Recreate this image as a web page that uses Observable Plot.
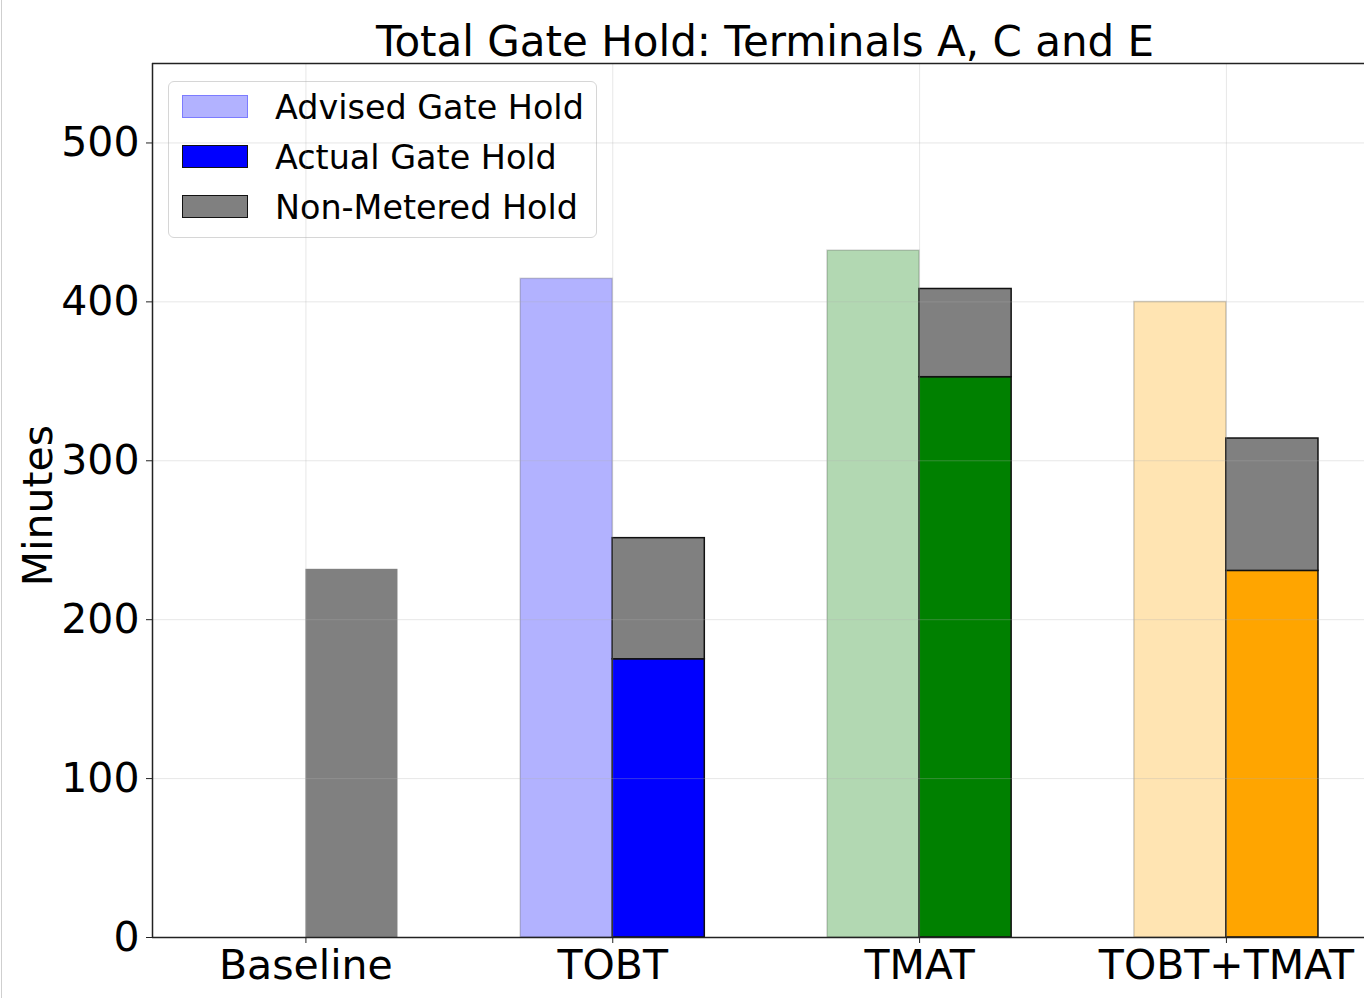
<!DOCTYPE html>
<html><head><meta charset="utf-8">
<script src="https://cdn.jsdelivr.net/npm/d3@7"></script>
<script src="https://cdn.jsdelivr.net/npm/@observablehq/plot@0.6"></script>
<style>
body{margin:0;background:#fff;font-family:"DejaVu Sans",sans-serif;}
#wrap{position:relative;width:1364px;height:998px;overflow:hidden;background:#fff;}
#title{position:absolute;top:21px;left:765px;transform:translateX(-50%);white-space:nowrap;font-size:42px;line-height:42px;color:#000;}
#legend{position:absolute;left:168px;top:81px;width:427px;height:155px;border:1px solid #d6d6d6;border-radius:6px;background:rgba(255,255,255,0.8);}
.lrow{position:absolute;left:0;height:40px;width:100%;}
.patch{position:absolute;left:13px;top:8px;width:64px;height:21px;}
.ltext{position:absolute;left:106px;top:1px;font-size:33.4px;line-height:40px;white-space:nowrap;color:#000;}
#edge{position:absolute;left:1px;top:0;width:1px;height:998px;background:#cfcfcf;}
svg{position:absolute;left:0;top:0;}
</style>
</head><body>
<div id="wrap"><div id="edge"></div><div id="title"></div><div id="legend"></div></div>
<script>
const title = "Total Gate Hold: Terminals A, C and E";
const categories = ["Baseline", "TOBT", "TMAT", "TOBT+TMAT"];
const advised = [null, 414.5, 432.2, 399.9];
const actual = [0, 175.1, 352.6, 230.7];
const nonMetered = [231.7, 76.2, 55.5, 83.3];
const advisedColors = ["#b2b2ff", "#b2b2ff", "#b2d8b2", "#ffe4b2"];
const actualColors = ["#0000ff", "#0000ff", "#008000", "#ffa500"];
const grayColor = "#808080";
const yTicks = [0, 100, 200, 300, 400, 500];
const yLabel = "Minutes";
const legendLabels = ["Advised Gate Hold", "Actual Gate Hold", "Non-Metered Hold"];
const legendFills = ["#b2b2ff", "#0000ff", "#808080"];
const legendStrokes = ["rgba(0,0,255,0.3)", "#111", "#111"];

const barW = 0.3;
const rows = categories.map((c, i) => ({
  i, c,
  advised: advised[i],
  actual: actual[i],
  top: actual[i] + nonMetered[i],
  advColor: advisedColors[i],
  actColor: actualColors[i],
  edged: actual[i] > 0
}));

document.getElementById("title").textContent = title;

const plot = Plot.plot({
  width: 1364,
  height: 998,
  marginLeft: 152,
  marginRight: 0,
  marginTop: 63,
  marginBottom: 61,
  style: {fontFamily: "DejaVu Sans", color: "#000", background: "transparent", overflow: "visible"},
  x: {type: "linear", domain: [-0.5, 3.45]},
  y: {domain: [0, 550]},
  marks: [
    Plot.rectY(rows.filter(d => d.advised != null), {
      x1: d => d.i - barW, x2: d => d.i, y1: 0, y2: "advised",
      fill: "advColor", stroke: "#000", strokeOpacity: 0.18, strokeWidth: 1.5
    }),
    Plot.rectY(rows.filter(d => d.actual > 0), {
      x1: d => d.i, x2: d => d.i + barW, y1: 0, y2: "actual",
      fill: "actColor", stroke: "#111", strokeWidth: 1.5
    }),
    Plot.rectY(rows.filter(d => d.edged), {
      x1: d => d.i, x2: d => d.i + barW, y1: "actual", y2: "top",
      fill: grayColor, stroke: "#111", strokeWidth: 1.5
    }),
    Plot.rectY(rows.filter(d => !d.edged), {
      x1: d => d.i, x2: d => d.i + barW, y1: "actual", y2: "top",
      fill: grayColor
    }),
    Plot.gridY(yTicks, {stroke: "#b0b0b0", strokeOpacity: 0.3, strokeWidth: 1}),
    Plot.gridX([0, 1, 2, 3], {stroke: "#b0b0b0", strokeOpacity: 0.3, strokeWidth: 1}),
    Plot.ruleY([0], {stroke: "#222", strokeWidth: 1.5}),
    Plot.ruleY([550], {stroke: "#222", strokeWidth: 1.5}),
    Plot.ruleX([-0.5], {stroke: "#222", strokeWidth: 1.5}),
    Plot.axisY(yTicks, {tickSize: 6, tickPadding: 7, fontSize: 41, label: null, stroke: "#222"}),
    Plot.axisX([0, 1, 2, 3], {tickFormat: i => categories[i], tickSize: 6, tickPadding: 6, fontSize: 41, label: null, stroke: "#222"}),
    Plot.text([yLabel], {text: d => d, frameAnchor: "left", textAnchor: "middle", rotate: -90, dx: -114, dy: 5, fontSize: 41, fill: "#000"})
  ]
});
document.getElementById("wrap").appendChild(plot);

const leg = document.getElementById("legend");
legendLabels.forEach((lab, k) => {
  const r = document.createElement("div");
  r.className = "lrow";
  r.style.top = (5 + k * 50) + "px";
  const p = document.createElement("div");
  p.className = "patch";
  p.style.background = legendFills[k];
  p.style.border = "1.5px solid " + legendStrokes[k];
  const t = document.createElement("div");
  t.className = "ltext";
  t.textContent = lab;
  r.appendChild(p); r.appendChild(t);
  leg.appendChild(r);
});
</script>
</body></html>
